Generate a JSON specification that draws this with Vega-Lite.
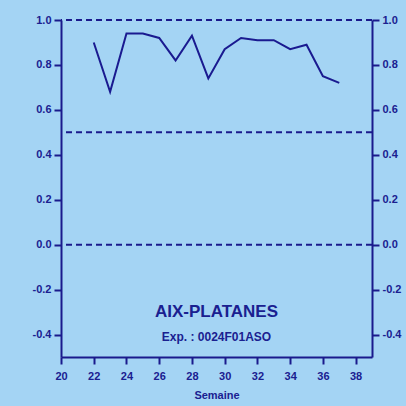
{
  "$schema": "https://vega.github.io/schema/vega-lite/v6.json",
  "width": 311,
  "height": 337,
  "autosize": {"type": "none"},
  "padding": {"left": 61, "top": 20, "right": 34, "bottom": 49},
  "background": "#a4d4f4",
  "config": {
    "view": {"stroke": null},
    "font": "Liberation Sans",
    "axis": {
      "domainColor": "#1a1a8c",
      "domainWidth": 2,
      "tickColor": "#1a1a8c",
      "tickWidth": 2,
      "tickSize": 7,
      "labelColor": "#1a2090",
      "labelFont": "Liberation Sans",
      "labelFontWeight": "bold",
      "labelFontSize": 11,
      "labelFlush": false,
      "titleColor": "#1a2090",
      "titleFont": "Liberation Sans",
      "titleFontWeight": "bold",
      "titleFontSize": 11,
      "grid": false
    }
  },
  "datasets": {
    "series": [
      {"semaine": 22, "valeur": 0.90},
      {"semaine": 23, "valeur": 0.68},
      {"semaine": 24, "valeur": 0.94},
      {"semaine": 25, "valeur": 0.94},
      {"semaine": 26, "valeur": 0.92},
      {"semaine": 27, "valeur": 0.82},
      {"semaine": 28, "valeur": 0.93},
      {"semaine": 29, "valeur": 0.74},
      {"semaine": 30, "valeur": 0.87},
      {"semaine": 31, "valeur": 0.92},
      {"semaine": 32, "valeur": 0.91},
      {"semaine": 33, "valeur": 0.91},
      {"semaine": 34, "valeur": 0.87},
      {"semaine": 35, "valeur": 0.89},
      {"semaine": 36, "valeur": 0.75},
      {"semaine": 37, "valeur": 0.72}
    ],
    "refs": [{"ref": 1.0}, {"ref": 0.5}, {"ref": 0.0}],
    "labels": [
      {"texte": "AIX-PLATANES", "role": "titre", "sx": 29.5, "sy": -0.3},
      {"texte": "Exp. : 0024F01ASO", "role": "sous", "sx": 29.5, "sy": -0.41}
    ]
  },
  "layer": [
    {
      "data": {"name": "refs"},
      "mark": {"type": "rule", "color": "#1a1a8c", "strokeWidth": 2, "strokeDash": [6, 4]},
      "encoding": {
        "y": {
          "field": "ref",
          "type": "quantitative",
          "scale": {"domain": [-0.5, 1.0], "nice": false, "zero": false},
          "axis": {"orient": "right", "values": [-0.4, -0.2, 0, 0.2, 0.4, 0.6, 0.8, 1.0], "format": ".1f", "labelExpr": "replace(datum.label, '\u2212', '-')", "title": null, "labelPadding": 3}
        }
      }
    },
    {
      "data": {"name": "series"},
      "mark": {"type": "line", "color": "#1a1a90", "strokeWidth": 2},
      "encoding": {
        "x": {
          "field": "semaine",
          "type": "quantitative",
          "scale": {"domain": [20, 39], "nice": false, "zero": false},
          "axis": {"orient": "bottom", "values": [20, 22, 24, 26, 28, 30, 32, 34, 36, 38], "title": "Semaine", "labelPadding": 6, "titlePadding": 8}
        },
        "y": {
          "field": "valeur",
          "type": "quantitative",
          "scale": {"domain": [-0.5, 1.0], "nice": false, "zero": false},
          "axis": {"orient": "left", "values": [-0.4, -0.2, 0, 0.2, 0.4, 0.6, 0.8, 1.0], "format": ".1f", "labelExpr": "replace(datum.label, '\u2212', '-')", "title": null, "labelPadding": 3}
        }
      }
    },
    {
      "data": {"name": "labels"},
      "transform": [{"filter": "datum.role == 'titre'"}],
      "mark": {"type": "text", "font": "Liberation Sans", "fontWeight": "bold", "fontSize": 17, "color": "#1a2090", "align": "center", "baseline": "middle"},
      "encoding": {
        "x": {"field": "sx", "type": "quantitative",
          "axis": {"orient": "bottom", "values": [20, 22, 24, 26, 28, 30, 32, 34, 36, 38], "title": "Semaine", "labelPadding": 6, "titlePadding": 8}},
        "y": {"field": "sy", "type": "quantitative", "axis": null},
        "text": {"field": "texte"}
      }
    },
    {
      "data": {"name": "labels"},
      "transform": [{"filter": "datum.role == 'sous'"}],
      "mark": {"type": "text", "font": "Liberation Sans", "fontWeight": "bold", "fontSize": 12, "color": "#1a2090", "align": "center", "baseline": "middle"},
      "encoding": {
        "x": {"field": "sx", "type": "quantitative",
          "axis": {"orient": "bottom", "values": [20, 22, 24, 26, 28, 30, 32, 34, 36, 38], "title": "Semaine", "labelPadding": 6, "titlePadding": 8}},
        "y": {"field": "sy", "type": "quantitative", "axis": null},
        "text": {"field": "texte"}
      }
    }
  ],
  "resolve": {"axis": {"y": "independent"}}
}
